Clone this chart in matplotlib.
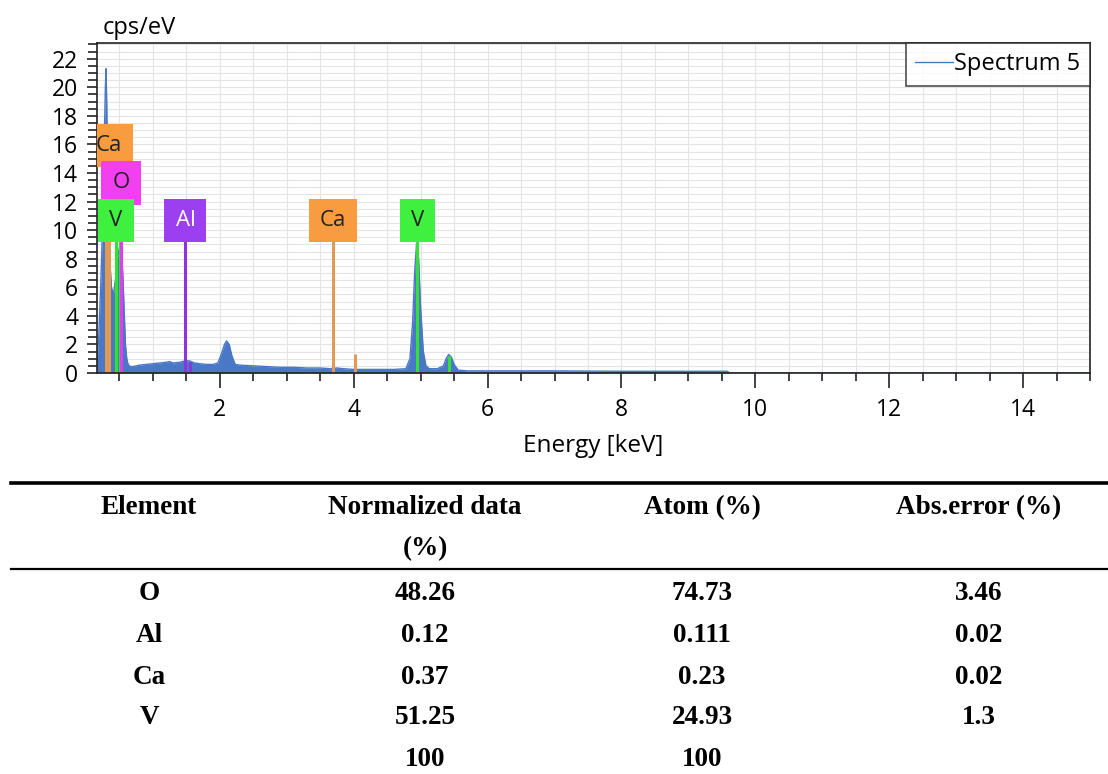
import numpy as np
import matplotlib
matplotlib.use("Agg")
import matplotlib.pyplot as plt
from matplotlib.ticker import MultipleLocator
from matplotlib.lines import Line2D

# spectrum (keV, cps/eV)
spec_energy = [0.16, 0.19, 0.22, 0.25, 0.27, 0.29, 0.30, 0.31, 0.33, 0.35, 0.38, 0.41, 0.44, 0.47,
               0.50, 0.53, 0.55, 0.57, 0.59, 0.61, 0.63, 0.66, 0.70, 0.80, 0.90, 1.00, 1.10, 1.20,
               1.25, 1.30, 1.40, 1.48, 1.55, 1.62, 1.70, 1.80, 1.90, 1.97, 2.02, 2.07, 2.10, 2.14,
               2.18, 2.23, 2.30, 2.50, 2.70, 2.90, 3.10, 3.30, 3.50, 3.65, 3.75, 3.85, 4.00, 4.20,
               4.40, 4.60, 4.78, 4.84, 4.88, 4.91, 4.94, 4.97, 5.00, 5.04, 5.08, 5.13, 5.25, 5.34,
               5.38, 5.42, 5.46, 5.50, 5.56, 5.70, 6.00, 7.00, 8.00, 9.00, 9.58, 9.62, 15.0]
spec_cps = [0.3, 2.5, 6.0, 10.5, 15.5, 20.0, 21.3, 19.0, 12.0, 8.5, 6.0, 5.5, 6.5, 8.0,
            8.8, 8.5, 7.0, 4.5, 2.0, 1.0, 0.6, 0.45, 0.45, 0.55, 0.6, 0.65, 0.7, 0.75,
            0.8, 0.7, 0.75, 0.85, 0.85, 0.7, 0.65, 0.6, 0.6, 0.7, 1.3, 2.0, 2.25, 2.0,
            1.2, 0.6, 0.55, 0.5, 0.45, 0.4, 0.4, 0.35, 0.35, 0.3, 0.35, 0.3, 0.25, 0.25,
            0.25, 0.25, 0.3, 1.0, 3.5, 7.0, 9.1, 8.0, 4.5, 1.5, 0.5, 0.3, 0.3, 0.5,
            1.0, 1.3, 1.1, 0.6, 0.2, 0.15, 0.15, 0.15, 0.12, 0.12, 0.12, 0.0, 0.0]

# element marker lines
line_element = ["Ca", "Ca", "V", "V", "O", "Al", "Al", "Ca", "Ca", "V", "V"]
line_energy = [0.302, 0.341, 0.446, 0.511, 0.525, 1.486, 1.557, 3.69, 4.012, 4.952, 5.427]
line_height = [9.3, 9.3, 9.3, 9.3, 9.3, 9.3, 0.8, 9.3, 1.3, 9.3, 1.2]

# element label boxes
label_element = ["Ca", "O", "V", "Al", "Ca", "V"]
label_energy = [0.341, 0.525, 0.446, 1.486, 3.69, 4.952]
label_level = [15.9, 13.3, 10.7, 10.7, 10.7, 10.7]

# table
col_headers = ["Element", "Normalized data\n(%)", "Atom (%)", "Abs.error (%)"]
row_element = ["O", "Al", "Ca", "V", ""]
norm_data = ["48.26", "0.12", "0.37", "51.25", "100"]
atom_pct = ["74.73", "0.111", "0.23", "24.93", "100"]
abs_error = ["3.46", "0.02", "0.02", "1.3", ""]

box_color = {"Ca": "#F99B3F", "O": "#F23FF0", "V": "#3FF03F", "Al": "#9B3FF0"}
line_color = {"Ca": "#E09A55", "O": "#E83AE8", "V": "#35E035", "Al": "#8A35E0"}
text_color = {"Ca": "#222222", "O": "#222222", "V": "#222222", "Al": "white"}
blue = "#4A78C6"

W, H = 1108, 774
fig = plt.figure(figsize=(W / 100, H / 100), dpi=100)
fig.patch.set_facecolor("white")

plt.rcParams["font.family"] = ["Open Sans", "DejaVu Sans"]

ax = fig.add_axes([97 / W, 1 - 373 / H, (1090 - 97) / W, (373 - 43) / H])
ax.set_xlim(0.165, 15.0)
ax.set_ylim(0, 23.1)

ax.xaxis.set_major_locator(MultipleLocator(2))
ax.xaxis.set_minor_locator(MultipleLocator(0.5))
ax.yaxis.set_major_locator(MultipleLocator(2))
ax.yaxis.set_minor_locator(MultipleLocator(0.5))
ax.grid(which="both", color="#E4E4E4", lw=0.8)
ax.set_axisbelow(True)

ax.tick_params(axis="x", which="major", length=10.5, width=1.2, labelsize=16.5, pad=7.5, color="#222222")
ax.tick_params(axis="x", which="minor", length=6, width=1.2, color="#222222")
ax.tick_params(axis="y", which="major", length=7.5, width=1.2, labelsize=16.5, pad=6, color="#222222")
ax.tick_params(axis="y", which="minor", length=6.5, width=1.2, color="#222222")
for sp in ax.spines.values():
    sp.set_linewidth(1.2)
    sp.set_color("#222222")

ax.fill_between(spec_energy, spec_cps, 0, color=blue, lw=0)
ax.plot(spec_energy, spec_cps, color=blue, lw=1, label="Spectrum 5")

for el, e, h in zip(line_element, line_energy, line_height):
    ax.vlines(e, 0, h, color=line_color[el], lw=2.2)

for el, e, lv in zip(label_element, label_energy, label_level):
    ax.text(e, lv, el, ha="center", va="center", fontsize=16, color=text_color[el],
            bbox=dict(boxstyle="square,pad=0.5", fc=box_color[el], ec="none"),
            clip_on=True)

ax.set_xlabel("Energy [keV]", fontsize=17.5, labelpad=9)
fig.text(103 / W, 1 - 28 / H, "cps/eV", fontsize=17, ha="left", va="center")

leg = ax.legend(loc="upper right", fontsize=17, frameon=True, fancybox=False,
                borderaxespad=0, handlelength=1.6, handletextpad=0.05, borderpad=0.4)
leg.get_frame().set_edgecolor("#222222")
leg.get_frame().set_linewidth(1.2)

# table below the chart
fig.add_artist(Line2D([11 / W, 1], [1 - 483 / H] * 2, color="black", lw=2.6))
fig.add_artist(Line2D([11 / W, 1], [1 - 569 / H] * 2, color="black", lw=1.6))

col_x = [149, 425, 702, 979]
tfont = dict(family=["Liberation Serif", "DejaVu Serif"], weight="bold", fontsize=19.5,
             ha="center", va="center")
fig.text(col_x[0] / W, 1 - 508 / H, col_headers[0], **tfont)
fig.text(col_x[1] / W, 1 - 508 / H, col_headers[1].split("\n")[0], **tfont)
fig.text(col_x[1] / W, 1 - 549 / H, col_headers[1].split("\n")[1], **tfont)
fig.text(col_x[2] / W, 1 - 508 / H, col_headers[2], **tfont)
fig.text(col_x[3] / W, 1 - 508 / H, col_headers[3], **tfont)

row_y = [594, 635, 677, 718, 760]
for i, y in enumerate(row_y):
    for cx, val in zip(col_x, [row_element[i], norm_data[i], atom_pct[i], abs_error[i]]):
        if val:
            fig.text(cx / W, 1 - y / H, val, **tfont)

fig.savefig("out.png", dpi=100)
